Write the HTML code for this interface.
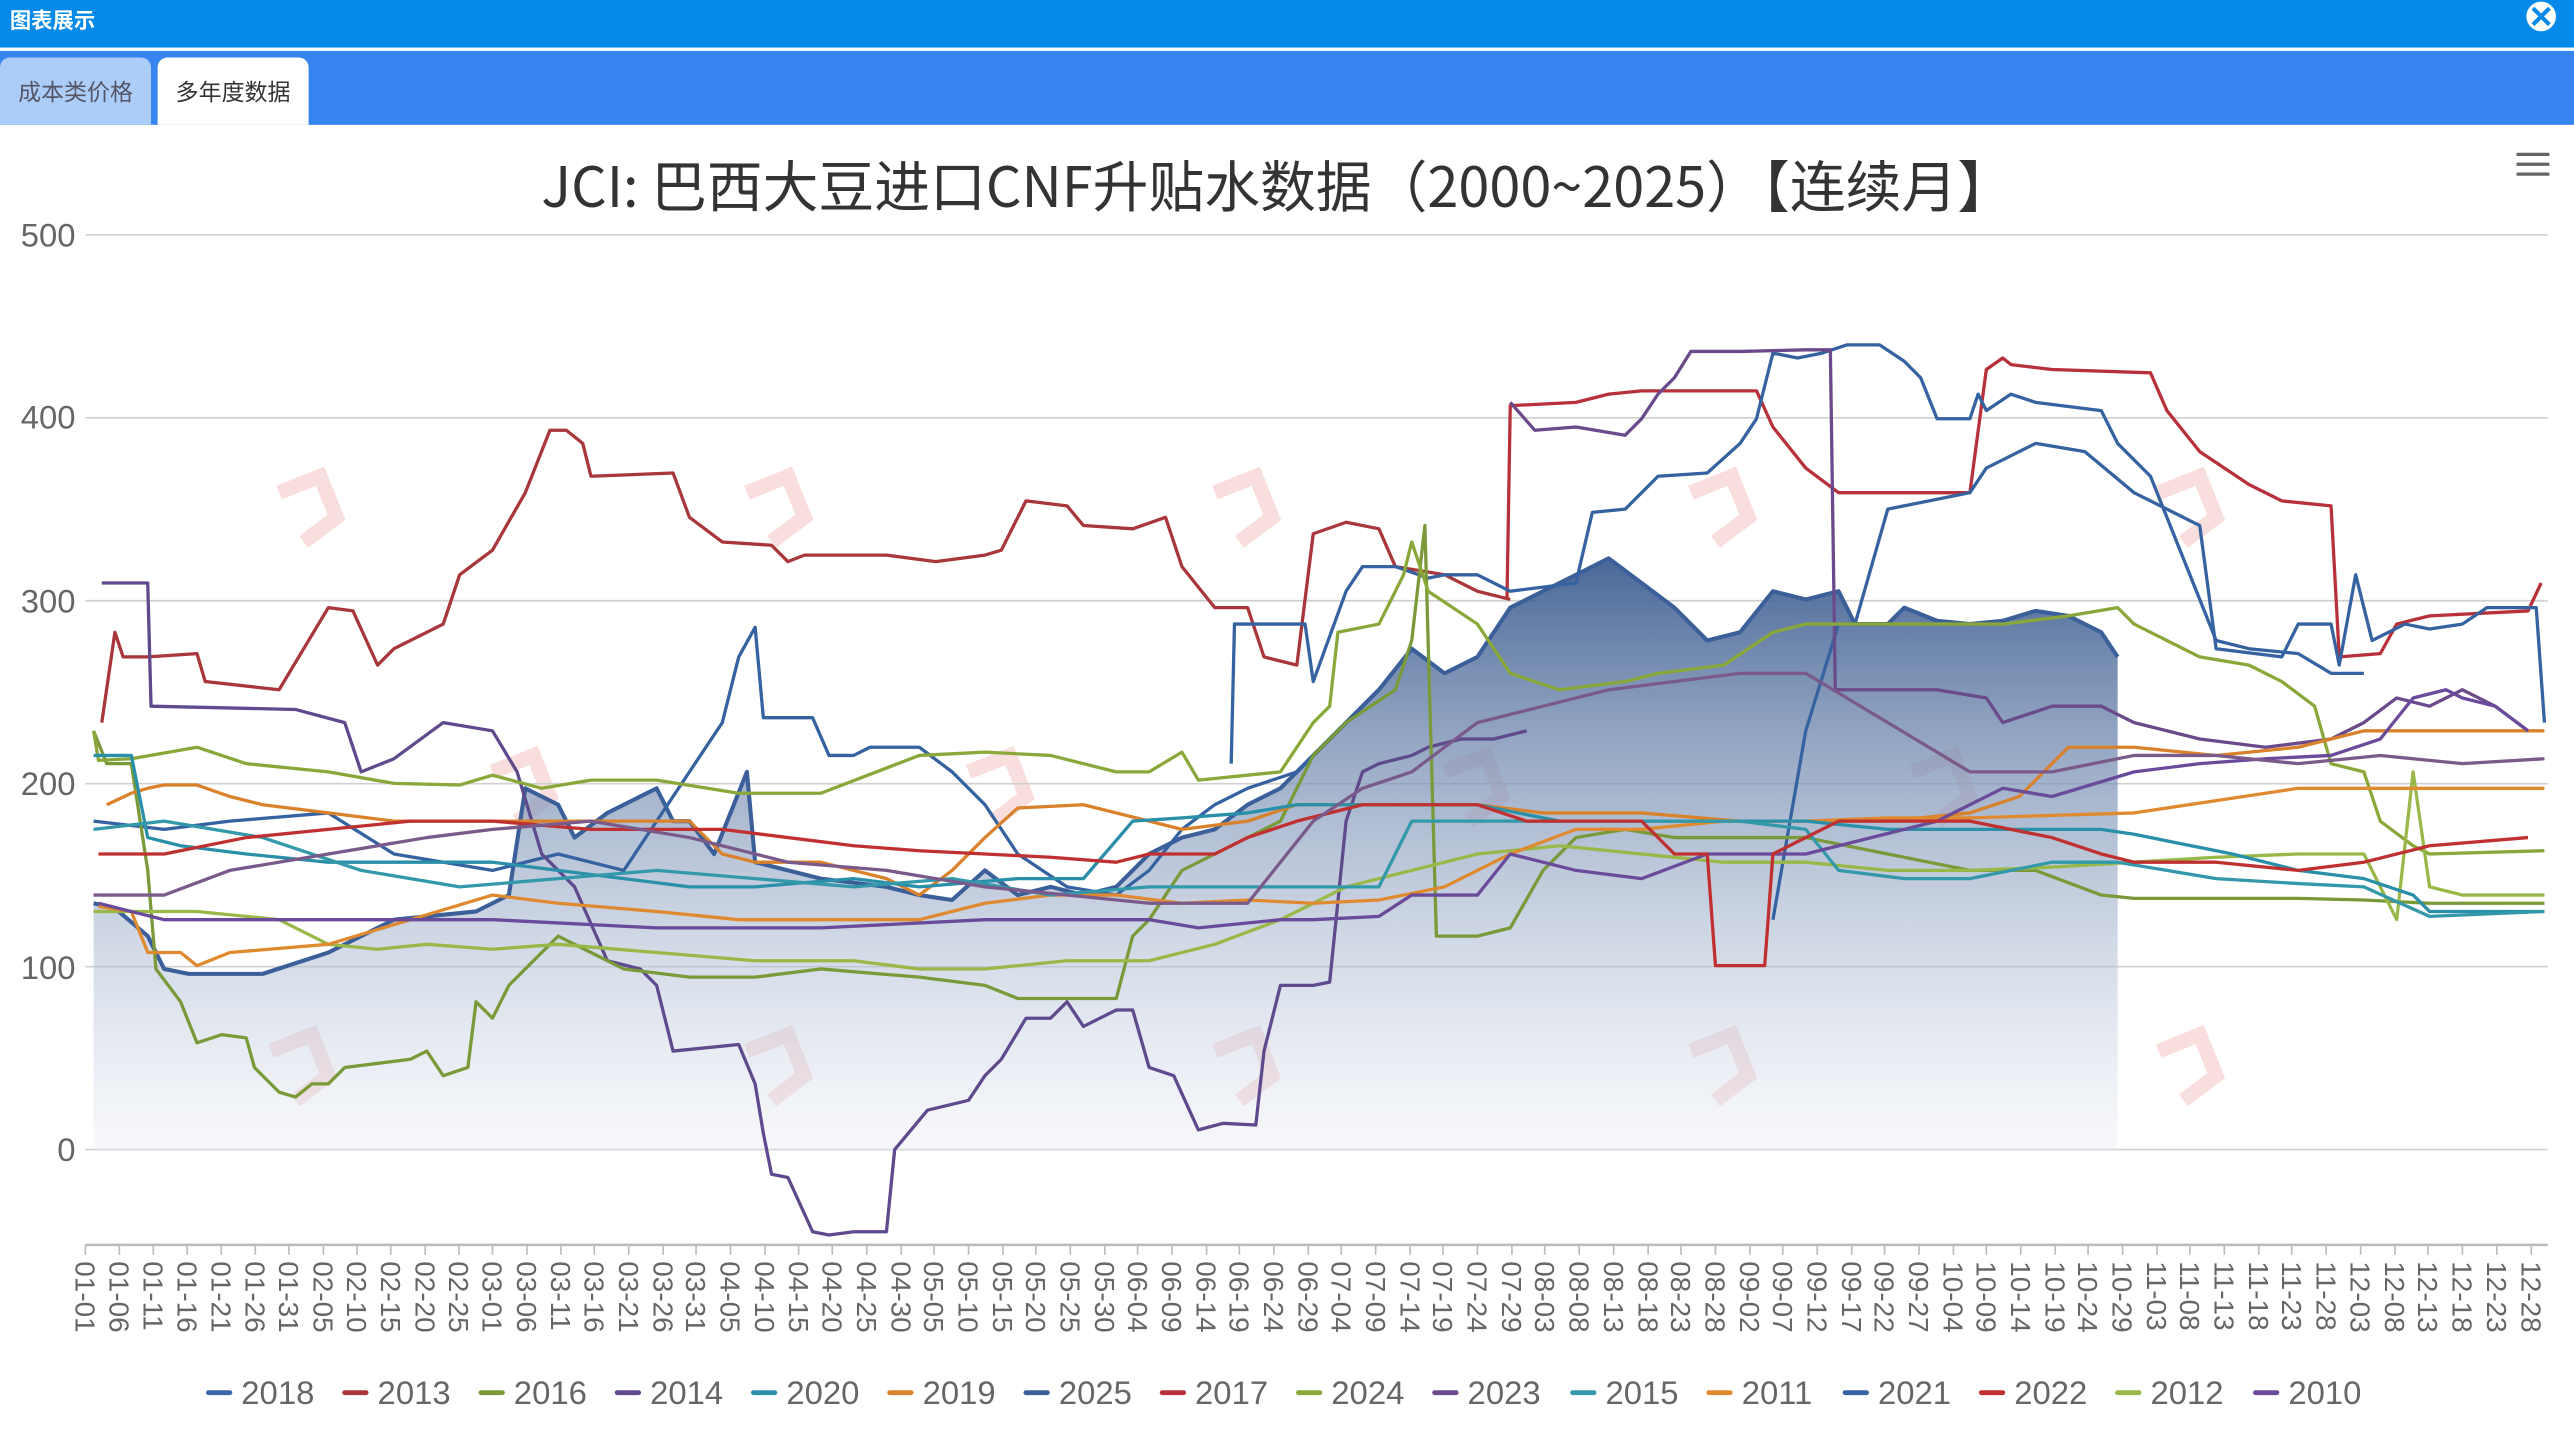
<!DOCTYPE html>
<html><head><meta charset="utf-8"><style>
html,body{margin:0;padding:0;background:#fff;}
svg{display:block}
text{font-family:"Liberation Sans Narrow","Liberation Sans","Noto Sans CJK SC",sans-serif;}
</style></head><body>
<svg width="2574" height="1437" viewBox="0 0 1568 875" preserveAspectRatio="none" xmlns="http://www.w3.org/2000/svg">
<defs>
<linearGradient id="g" x1="0" y1="0" x2="0" y2="1">
<stop offset="0" stop-color="#3f5f92" stop-opacity="0.95"/>
<stop offset="1" stop-color="#e8ecf4" stop-opacity="0.35"/>
</linearGradient>
</defs>
<rect x="0" y="0" width="1568" height="29" fill="#068ae9"/>
<rect x="0" y="29" width="1568" height="2" fill="#fff"/>
<rect x="0" y="31" width="1568" height="45" fill="#3584ef"/>
<text x="6" y="17" font-size="13" fill="#fff" font-family="'Noto Sans CJK SC',sans-serif" font-weight="bold">图表展示</text>
<circle cx="1548" cy="10" r="9" fill="#fff"/>
<path d="M1543 5 L1553 15 M1553 5 L1543 15" stroke="#068ae9" stroke-width="2.5"/>
<path d="M0 76 V41 a6 6 0 0 1 6 -6 H86 a6 6 0 0 1 6 6 V76Z" fill="#abcdf8"/>
<path d="M96 76 V41 a6 6 0 0 1 6 -6 H182 a6 6 0 0 1 6 6 V76Z" fill="#fff"/>
<text x="46" y="61" font-size="14" fill="#556" text-anchor="middle" style="font-family:'Noto Sans CJK SC',sans-serif">成本类价格</text>
<text x="142" y="61" font-size="14" fill="#333" text-anchor="middle" style="font-family:'Noto Sans CJK SC',sans-serif">多年度数据</text>

<text x="778" y="126" font-size="34" fill="#333" text-anchor="middle" style="font-family:'Liberation Sans Narrow','Noto Sans CJK SC',sans-serif">JCI: 巴西大豆进口CNF升贴水数据（2000~2025）【连续月】</text>
<path d="M1533 94h20M1533 100h20M1533 106h20" stroke="#666" stroke-width="2"/>

<g fill="none" stroke="#f6d0d0" stroke-width="9" opacity="0.7">
<path d="M170 300 l25 -10 l10 25 l-20 15"/><path d="M455 300 l25 -10 l10 25 l-20 15"/><path d="M740 300 l25 -10 l10 25 l-20 15"/><path d="M1030 300 l25 -10 l10 25 l-20 15"/><path d="M1315 300 l25 -10 l10 25 l-20 15"/>
<path d="M165 640 l25 -10 l10 25 l-20 15"/><path d="M455 640 l25 -10 l10 25 l-20 15"/><path d="M740 640 l25 -10 l10 25 l-20 15"/><path d="M1030 640 l25 -10 l10 25 l-20 15"/><path d="M1315 640 l25 -10 l10 25 l-20 15"/>
<path d="M300 470 l25 -10 l10 25 l-20 15"/><path d="M590 470 l25 -10 l10 25 l-20 15"/><path d="M880 470 l25 -10 l10 25 l-20 15"/><path d="M1165 470 l25 -10 l10 25 l-20 15"/>
</g>

<g stroke="#d0d0d0" stroke-width="1">
<line x1="52" y1="143" x2="1552" y2="143"/><line x1="52" y1="254.4" x2="1552" y2="254.4"/>
<line x1="52" y1="365.8" x2="1552" y2="365.8"/><line x1="52" y1="477.2" x2="1552" y2="477.2"/>
<line x1="52" y1="588.6" x2="1552" y2="588.6"/><line x1="52" y1="700" x2="1552" y2="700"/>
</g>
<g font-size="20" fill="#666" text-anchor="end">
<text x="46" y="150">500</text><text x="46" y="261">400</text><text x="46" y="373">300</text>
<text x="46" y="484">200</text><text x="46" y="596">100</text><text x="46" y="707">0</text>
</g>

<path fill="url(#g)" d="M57 700 L57 550 70 553 90 570 100 590 115 593 160 593 200 580 240 560 290 555 310 545 320 480 340 490 350 510 370 495 390 485 400 480 410 500 420 500 435 520 455 470 460 525 480 530 500 535 540 540 560 545 580 548 600 530 620 545 640 540 660 545 680 540 700 520 720 510 740 505 760 490 780 480 800 460 820 440 840 420 860 395 880 410 900 400 920 370 940 360 960 350 980 340 1000 355 1020 370 1040 390 1060 385 1080 360 1100 365 1120 360 1130 380 1150 380 1160 370 1180 378 1200 380 1220 378 1240 372 1260 375 1280 385 1290 400 1290 700Z"/>

<g fill="none" stroke-width="2" stroke-linejoin="round">
<polyline stroke="#3a5f99" stroke-width="2.5" points="57,550 70,553 90,570 100,590 115,593 160,593 200,580 240,560 290,555 310,545 320,480 340,490 350,510 370,495 390,485 400,480 410,500 420,500 435,520 455,470 460,525 480,530 500,535 540,540 560,545 580,548 600,530 620,545 640,540 660,545 680,540 700,520 720,510 740,505 760,490 780,480 800,460 820,440 840,420 860,395 880,410 900,400 920,370 940,360 960,350 980,340 1000,355 1020,370 1040,390 1060,385 1080,360 1100,365 1120,360 1130,380 1150,380 1160,370 1180,378 1200,380 1220,378 1240,372 1260,375 1280,385 1290,400"/>
<polyline stroke="#a8363a" points="62,440 70,385 75,400 90,400 120,398 125,415 170,420 200,370 215,372 230,405 240,395 270,380 280,350 300,335 320,300 335,262 345,262 355,270 360,290 410,288 420,315 440,330 470,332 480,342 490,338 540,338 570,342 600,338 610,335 625,305 650,308 660,320 690,322 710,315 720,345 740,370 760,370 770,400 790,405 800,325 820,318 840,322 850,345 880,350 900,360 920,365"/>
<polyline stroke="#b8303a" points="918,365 920,247 960,245 980,240 1000,238 1070,238 1080,260 1100,285 1120,300 1140,300 1200,300 1210,225 1220,218 1225,222 1250,225 1310,227 1320,250 1340,275 1370,295 1390,305 1420,308 1425,400 1450,398 1460,380 1480,375 1540,372 1548,355"/>
<polyline stroke="#3562a0" points="750,465 752,380 795,380 800,415 820,360 830,345 850,345 870,352 880,350 900,350 920,360 960,355 970,312 990,310 1010,290 1040,288 1060,270 1070,255 1080,215 1095,218 1110,215 1125,210 1145,210 1160,220 1170,230 1180,255 1200,255 1205,240 1210,250 1225,240 1240,245 1280,250 1290,270 1310,290 1330,340 1350,390 1370,395 1400,398 1420,410 1440,410"/>
<polyline stroke="#3562a0" points="1080,560 1100,445 1120,380 1130,380 1150,310 1200,300 1210,285 1240,270 1270,275 1300,300 1320,310 1340,320 1350,395 1390,400 1400,380 1420,380 1425,405 1435,350 1445,390 1465,380 1480,383 1500,380 1515,370 1545,370 1550,440"/>
<polyline stroke="#3562a0" points="57,500 100,505 140,500 200,495 240,520 300,530 340,520 380,530 420,470 440,440 450,400 460,382 465,437 495,437 505,460 520,460 530,455 560,455 580,470 600,490 620,520 650,540 680,545 700,530 720,505 740,490 760,480 790,470 800,460"/>
<polyline stroke="#5e4a8c" points="62,355 90,355 92,430 180,432 210,440 220,470 240,462 270,440 300,445 315,470 330,520 350,540 370,585 390,590 400,600 410,640 450,636 460,660 465,690 470,715 480,717 495,750 505,752 520,750 540,750 545,700 565,676 590,670 600,655 610,645 625,620 640,620 650,610 660,625 680,615 690,615 700,650 715,655 730,688 745,684 765,685 770,640 780,600 800,600 810,598 820,500 830,470 840,465 860,460 870,455 890,450 910,450 930,445"/>
<polyline stroke="#6a4a8a" points="920,245 935,262 960,260 990,265 1000,255 1010,240 1020,230 1030,214 1060,214 1100,213 1115,213 1118,420 1140,420 1180,420 1210,425 1220,440 1250,430 1280,430 1300,440 1340,450 1380,455 1420,450 1440,440 1460,425 1480,430 1500,420 1520,430 1540,445"/>
<polyline stroke="#7a9a3a" points="57,445 65,465 80,465 90,530 95,590 110,610 120,635 135,630 150,632 155,650 170,665 180,668 190,660 200,660 210,650 250,645 260,640 270,655 285,650 290,610 300,620 310,600 320,590 340,570 360,580 380,590 420,595 460,595 500,590 560,595 600,600 620,608 680,608 690,570 700,560 720,530 760,510 780,500 800,460 820,440 850,420 860,390 868,320 875,570 900,570 920,565 940,530 960,510 990,505 1020,510 1050,510 1100,510 1150,520 1200,530 1240,530 1280,545 1300,547 1400,547 1440,548 1480,550 1520,550 1550,550"/>
<polyline stroke="#8aa83a" points="57,445 60,463 80,462 120,455 150,465 200,470 240,477 280,478 300,472 330,480 360,475 400,475 450,483 500,483 560,460 600,458 640,460 680,470 700,470 720,458 730,475 780,470 800,440 810,430 815,385 840,380 855,350 860,330 870,360 900,380 920,410 950,420 990,415 1010,410 1050,405 1080,385 1100,380 1180,380 1220,380 1260,375 1290,370 1300,380 1320,390 1340,400 1370,405 1390,415 1410,430 1420,465 1440,470 1450,500 1470,515 1480,520 1550,518"/>
<polyline stroke="#9ab848" points="57,555 120,555 170,560 200,575 230,578 260,575 300,578 340,575 400,580 460,585 520,585 560,590 600,590 650,585 700,585 740,575 780,560 820,540 860,530 900,520 950,515 1000,520 1050,525 1100,525 1150,530 1200,530 1250,528 1300,525 1350,522 1400,520 1440,520 1460,560 1470,470 1480,540 1500,545 1550,545"/>
<polyline stroke="#d9822b" points="65,490 80,483 90,480 100,478 120,478 140,485 160,490 200,495 240,500 300,500 340,500 380,500 420,500 440,520 460,525 500,525 540,535 560,545 580,530 600,510 620,492 660,490 700,500 720,505 760,500 790,490 830,490 870,490 900,490 940,495 1000,495 1060,500 1100,500 1150,500 1200,495 1230,485 1260,455 1300,455 1350,460 1400,455 1440,445 1470,445 1550,445"/>
<polyline stroke="#e08a30" points="60,552 80,555 90,580 110,580 120,588 140,580 200,575 250,560 300,545 340,550 400,555 450,560 500,560 560,560 600,550 640,545 680,545 720,550 760,548 800,550 840,548 880,540 920,520 960,505 1000,505 1050,500 1100,500 1150,498 1200,498 1300,495 1400,480 1450,480 1550,480"/>
<polyline stroke="#2a8fa8" points="57,460 80,460 90,510 110,515 150,520 200,525 250,525 300,525 340,530 380,535 420,540 460,540 520,535 560,540 620,535 660,535 690,500 720,498 760,495 790,490 830,490 860,490 900,490 950,500 1000,500 1050,500 1100,500 1150,505 1200,505 1240,505 1280,505 1300,508 1360,520 1400,530 1440,535 1470,545 1480,555 1550,555"/>
<polyline stroke="#3399aa" points="57,505 100,500 160,510 220,530 280,540 340,535 400,530 460,535 520,540 580,535 640,545 700,540 740,540 800,540 840,540 860,500 900,500 940,500 1000,500 1060,500 1100,505 1120,530 1160,535 1200,535 1250,525 1290,525 1350,535 1400,538 1440,540 1480,558 1550,555"/>
<polyline stroke="#6a4a9a" points="60,550 100,560 150,560 200,560 300,560 400,565 500,565 600,560 700,560 730,565 780,560 800,560 840,558 860,545 900,545 920,520 960,530 1000,535 1040,520 1080,520 1100,520 1180,500 1200,490 1220,480 1250,485 1300,470 1340,465 1380,462 1420,460 1450,450 1470,425 1490,420 1500,425 1520,430 1540,445"/>
<polyline stroke="#c03030" points="60,520 100,520 150,510 200,505 250,500 300,500 360,505 400,505 440,505 480,510 520,515 560,518 600,520 640,522 680,525 700,520 740,520 760,510 790,500 830,490 860,490 900,490 930,500 960,500 1000,500 1020,520 1040,520 1045,588 1075,588 1080,520 1120,500 1150,500 1200,500 1250,510 1280,520 1300,525 1350,525 1400,530 1440,525 1480,515 1540,510"/>
<polyline stroke="#7a5a8a" points="57,545 100,545 140,530 200,520 260,510 300,505 360,500 420,510 480,525 540,530 600,540 650,545 700,550 760,550 800,500 830,480 860,470 900,440 940,430 980,420 1020,415 1060,410 1100,410 1150,440 1200,470 1250,470 1300,460 1350,460 1400,465 1450,460 1500,465 1550,462"/>
</g>

<line x1="52" y1="758" x2="1552" y2="758" stroke="#bbb" stroke-width="1.5"/>
<path stroke="#bbb" stroke-width="1" d="M52 758v6M72.7 758v6M93.4 758v6M114 758v6M134.8 758v6M155.5 758v6M176 758v6M197 758v6M217.5 758v6M238 758v6M259 758v6M279.6 758v6M300 758v6M321 758v6M341.7 758v6M362 758v6M383 758v6M404 758v6M424 758v6M445 758v6M466 758v6M486.5 758v6M507 758v6M528 758v6M549 758v6M569 758v6M590 758v6M611 758v6M631 758v6M652 758v6M673 758v6M693 758v6M714 758v6M735 758v6M755 758v6M776 758v6M797 758v6M817 758v6M838 758v6M859 758v6M879 758v6M900 758v6M921 758v6M941 758v6M962 758v6M983 758v6M1004 758v6M1024 758v6M1045 758v6M1066 758v6M1086 758v6M1107 758v6M1128 758v6M1148 758v6M1169 758v6M1190 758v6M1210 758v6M1231 758v6M1252 758v6M1272 758v6M1293 758v6M1314 758v6M1334 758v6M1355 758v6M1376 758v6M1396 758v6M1417 758v6M1438 758v6M1459 758v6M1479 758v6M1500 758v6M1521 758v6M1542 758v6"/>

<g font-size="17" fill="#666">
<text transform="translate(46,768) rotate(90)">01-01</text>
<text transform="translate(66.7,768) rotate(90)">01-06</text>
<text transform="translate(87.4,768) rotate(90)">01-11</text>
<text transform="translate(108,768) rotate(90)">01-16</text>
<text transform="translate(128.8,768) rotate(90)">01-21</text>
<text transform="translate(149.5,768) rotate(90)">01-26</text>
<text transform="translate(170,768) rotate(90)">01-31</text>
<text transform="translate(191,768) rotate(90)">02-05</text>
<text transform="translate(211.5,768) rotate(90)">02-10</text>
<text transform="translate(232,768) rotate(90)">02-15</text>
<text transform="translate(253,768) rotate(90)">02-20</text>
<text transform="translate(273.6,768) rotate(90)">02-25</text>
<text transform="translate(294,768) rotate(90)">03-01</text>
<text transform="translate(315,768) rotate(90)">03-06</text>
<text transform="translate(335.7,768) rotate(90)">03-11</text>
<text transform="translate(356,768) rotate(90)">03-16</text>
<text transform="translate(377,768) rotate(90)">03-21</text>
<text transform="translate(398,768) rotate(90)">03-26</text>
<text transform="translate(418,768) rotate(90)">03-31</text>
<text transform="translate(439,768) rotate(90)">04-05</text>
<text transform="translate(460,768) rotate(90)">04-10</text>
<text transform="translate(480.5,768) rotate(90)">04-15</text>
<text transform="translate(501,768) rotate(90)">04-20</text>
<text transform="translate(522,768) rotate(90)">04-25</text>
<text transform="translate(543,768) rotate(90)">04-30</text>
<text transform="translate(563,768) rotate(90)">05-05</text>
<text transform="translate(584,768) rotate(90)">05-10</text>
<text transform="translate(605,768) rotate(90)">05-15</text>
<text transform="translate(625,768) rotate(90)">05-20</text>
<text transform="translate(646,768) rotate(90)">05-25</text>
<text transform="translate(667,768) rotate(90)">05-30</text>
<text transform="translate(687,768) rotate(90)">06-04</text>
<text transform="translate(708,768) rotate(90)">06-09</text>
<text transform="translate(729,768) rotate(90)">06-14</text>
<text transform="translate(749,768) rotate(90)">06-19</text>
<text transform="translate(770,768) rotate(90)">06-24</text>
<text transform="translate(791,768) rotate(90)">06-29</text>
<text transform="translate(811,768) rotate(90)">07-04</text>
<text transform="translate(832,768) rotate(90)">07-09</text>
<text transform="translate(853,768) rotate(90)">07-14</text>
<text transform="translate(873,768) rotate(90)">07-19</text>
<text transform="translate(894,768) rotate(90)">07-24</text>
<text transform="translate(915,768) rotate(90)">07-29</text>
<text transform="translate(935,768) rotate(90)">08-03</text>
<text transform="translate(956,768) rotate(90)">08-08</text>
<text transform="translate(977,768) rotate(90)">08-13</text>
<text transform="translate(998,768) rotate(90)">08-18</text>
<text transform="translate(1018,768) rotate(90)">08-23</text>
<text transform="translate(1039,768) rotate(90)">08-28</text>
<text transform="translate(1060,768) rotate(90)">09-02</text>
<text transform="translate(1080,768) rotate(90)">09-07</text>
<text transform="translate(1101,768) rotate(90)">09-12</text>
<text transform="translate(1122,768) rotate(90)">09-17</text>
<text transform="translate(1142,768) rotate(90)">09-22</text>
<text transform="translate(1163,768) rotate(90)">09-27</text>
<text transform="translate(1184,768) rotate(90)">10-04</text>
<text transform="translate(1204,768) rotate(90)">10-09</text>
<text transform="translate(1225,768) rotate(90)">10-14</text>
<text transform="translate(1246,768) rotate(90)">10-19</text>
<text transform="translate(1266,768) rotate(90)">10-24</text>
<text transform="translate(1287,768) rotate(90)">10-29</text>
<text transform="translate(1308,768) rotate(90)">11-03</text>
<text transform="translate(1328,768) rotate(90)">11-08</text>
<text transform="translate(1349,768) rotate(90)">11-13</text>
<text transform="translate(1370,768) rotate(90)">11-18</text>
<text transform="translate(1390,768) rotate(90)">11-23</text>
<text transform="translate(1411,768) rotate(90)">11-28</text>
<text transform="translate(1432,768) rotate(90)">12-03</text>
<text transform="translate(1453,768) rotate(90)">12-08</text>
<text transform="translate(1473,768) rotate(90)">12-13</text>
<text transform="translate(1494,768) rotate(90)">12-18</text>
<text transform="translate(1515,768) rotate(90)">12-23</text>
<text transform="translate(1536,768) rotate(90)">12-28</text>
</g>

<g font-size="20" fill="#666" stroke-linecap="round">
<line x1="127" y1="848" x2="140" y2="848" stroke="#3a66a6" stroke-width="3"/><text x="147" y="855">2018</text>
<line x1="210" y1="848" x2="223" y2="848" stroke="#a8363a" stroke-width="3"/><text x="230" y="855">2013</text>
<line x1="293" y1="848" x2="306" y2="848" stroke="#7a9a3a" stroke-width="3"/><text x="313" y="855">2016</text>
<line x1="376" y1="848" x2="389" y2="848" stroke="#5e4a8c" stroke-width="3"/><text x="396" y="855">2014</text>
<line x1="459" y1="848" x2="472" y2="848" stroke="#2a8fa8" stroke-width="3"/><text x="479" y="855">2020</text>
<line x1="542" y1="848" x2="555" y2="848" stroke="#d9822b" stroke-width="3"/><text x="562" y="855">2019</text>
<line x1="625" y1="848" x2="638" y2="848" stroke="#3a5f99" stroke-width="3"/><text x="645" y="855">2025</text>
<line x1="708" y1="848" x2="721" y2="848" stroke="#b8303a" stroke-width="3"/><text x="728" y="855">2017</text>
<line x1="791" y1="848" x2="804" y2="848" stroke="#8aa83a" stroke-width="3"/><text x="811" y="855">2024</text>
<line x1="874" y1="848" x2="887" y2="848" stroke="#6a4a8a" stroke-width="3"/><text x="894" y="855">2023</text>
<line x1="958" y1="848" x2="971" y2="848" stroke="#3399aa" stroke-width="3"/><text x="978" y="855">2015</text>
<line x1="1041" y1="848" x2="1054" y2="848" stroke="#e08a30" stroke-width="3"/><text x="1061" y="855">2011</text>
<line x1="1124" y1="848" x2="1137" y2="848" stroke="#3562a0" stroke-width="3"/><text x="1144" y="855">2021</text>
<line x1="1207" y1="848" x2="1220" y2="848" stroke="#c03030" stroke-width="3"/><text x="1227" y="855">2022</text>
<line x1="1290" y1="848" x2="1303" y2="848" stroke="#9ab848" stroke-width="3"/><text x="1310" y="855">2012</text>
<line x1="1374" y1="848" x2="1387" y2="848" stroke="#6a4a9a" stroke-width="3"/><text x="1394" y="855">2010</text>
</g>
</svg>
</body></html>
